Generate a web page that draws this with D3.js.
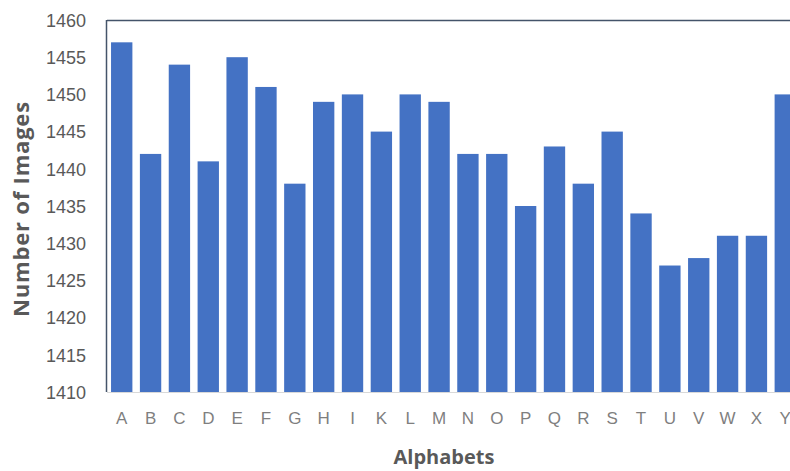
<!DOCTYPE html>
<html lang="en">
<head>
    <meta charset="UTF-8">
    <title>Images per alphabet</title>
    <style>
        body{
            margin: 0;
            background: #fff;
        }
        svg{
            display: block;
            font-family: "Open Sans", sans-serif;
        }
    </style>
    <script src="https://cdn.jsdelivr.net/npm/d3@7"></script>
</head>
<body>
<script>
    const width = 790
    const height = 471

    const letters = ["A","B","C","D","E","F","G","H","I","K","L","M","N","O","P","Q","R","S","T","U","V","W","X","Y"]
    const counts = [1457,1442,1454,1441,1455,1451,1438,1449,1450,1445,1450,1449,1442,1442,1435,1443,1438,1445,1434,1427,1428,1431,1431,1450]
    const yTicks = [1410,1415,1420,1425,1430,1435,1440,1445,1450,1455,1460]

    const data = letters.map((d,i)=>({letter:d, value:counts[i]}))

    // plot runs a bit past the right edge of the picture
    const plotLeft = 107, plotTop = 20, plotBottom = 392, plotRight = 800

    let svg = d3.select("body").append("svg")
        .attr("width", width)
        .attr("height", height)

    const x = d3.scaleBand()
        .domain(letters)
        .range([plotLeft, plotRight])
        .paddingInner(0.26)
        .paddingOuter(0.14)

    const y = d3.scaleLinear()
        .domain([1410,1460])
        .range([plotBottom, plotTop])

    svg.selectAll(".bar")
        .data(data)
        .enter()
        .append("rect")
        .attr("class","bar")
        .attr("x", d=>x(d.letter))
        .attr("width", x.bandwidth())
        .attr("y", d=>y(d.value))
        .attr("height", d=>plotBottom - y(d.value))
        .attr("fill","#4472C4")

    // frame: top and left in slate blue, bottom axis light gray
    svg.append("line")
        .attr("x1", plotLeft).attr("x2", width)
        .attr("y1", plotTop + 0.5).attr("y2", plotTop + 0.5)
        .attr("stroke","#44546A").attr("stroke-width",1.5)
    svg.append("line")
        .attr("x1", plotLeft - 0.5).attr("x2", plotLeft - 0.5)
        .attr("y1", plotTop).attr("y2", plotBottom)
        .attr("stroke","#44546A").attr("stroke-width",1.5)
    svg.append("line")
        .attr("x1", plotLeft).attr("x2", width)
        .attr("y1", plotBottom + 0.5).attr("y2", plotBottom + 0.5)
        .attr("stroke","#D9D9D9").attr("stroke-width",1)

    const yAxis = d3.axisLeft(y).tickValues(yTicks).tickFormat(d3.format("d"))
        .tickSize(0).tickPadding(21)
    const gy = svg.append("g")
        .attr("transform",`translate(${plotLeft},0)`)
        .call(yAxis)
    gy.select(".domain").remove()
    gy.selectAll("text")
        .attr("fill","#595959")
        .style("font-size","18px")
        .attr("dy","0.35em")

    const xAxis = d3.axisBottom(x).tickSize(0).tickPadding(20)
    const gx = svg.append("g")
        .attr("transform",`translate(0,${plotBottom})`)
        .call(xAxis)
    gx.select(".domain").remove()
    gx.selectAll("text")
        .attr("fill","#7F7F7F")
        .style("font-size","17px")

    svg.append("text")
        .attr("transform","translate(29,209) rotate(-90)")
        .attr("text-anchor","middle")
        .attr("fill","#595959")
        .style("font-size","22px")
        .style("letter-spacing","0.8px")
        .style("font-weight","bold")
        .text("Number of Images")

    svg.append("text")
        .attr("x",444)
        .attr("y",464)
        .attr("text-anchor","middle")
        .attr("fill","#595959")
        .style("font-size","20px")
        .style("font-weight","bold")
        .text("Alphabets")
</script>
</body>
</html>
